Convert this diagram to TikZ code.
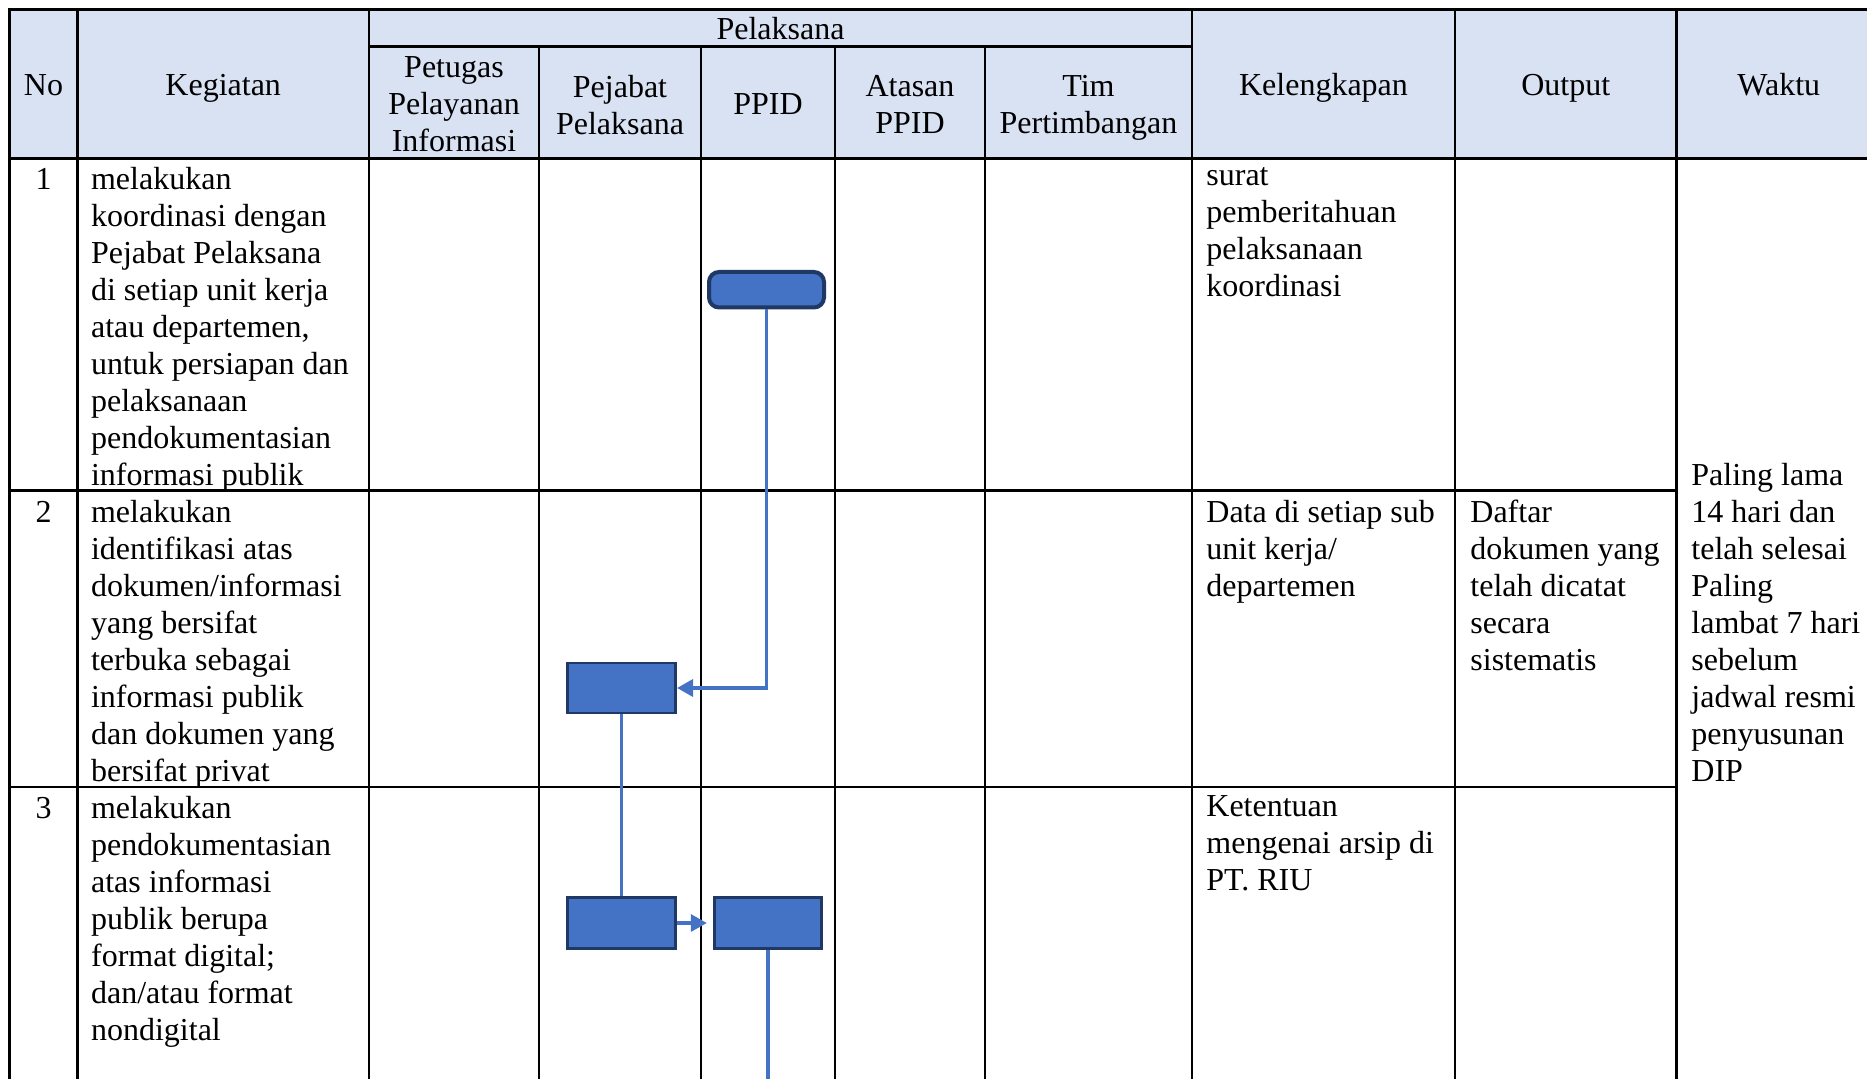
\documentclass[tikz,border=0pt]{standalone}
\usepackage{fontspec}
\setmainfont{Liberation Serif}
\usetikzlibrary{arrows.meta}
\definecolor{hdrfill}{HTML}{D9E2F3}
\definecolor{boxfill}{HTML}{4472C4}
\definecolor{boxline}{HTML}{1F3864}
\definecolor{connblue}{HTML}{4472C4}
\begin{document}
\begin{tikzpicture}[x=0.5pt,y=-0.5pt,
  tblline/.style={line width=1.4pt, black, line cap=rect},
  txt/.style={inner sep=0pt, anchor=north west, align=left, font=\fontsize{16}{18.5}\selectfont, execute at begin node=\strut},
  hd/.style={inner sep=0pt, anchor=north, align=center, font=\fontsize{16}{18.5}\selectfont, execute at begin node=\strut},
  flowbox/.style={draw=boxline, fill=boxfill, line width=1.35pt, inner sep=0pt},
  connline/.style={draw=connblue, line width=1.6pt},
  arrowend/.style={-{Triangle[length=8pt,width=8.5pt]}}
]
\useasboundingbox (0,0) rectangle (1867,1079);
\clip (0,0) rectangle (1867,1079);
% header background
\fill[hdrfill] (9.5,9.5) rectangle (1900,158.4);
% table lines
\draw[tblline] (9.5,9.5) -- (1900,9.5);
\draw[tblline] (369,46.7) -- (1192,46.7);
\draw[tblline] (9.5,158.4) -- (1900,158.4);
\draw[tblline] (9.5,490.6) -- (1676.5,490.6);
\draw[tblline] (9.5,787) -- (1676.5,787);
\foreach \x in {9.5,77.4,369,1192,1455,1676.5} \draw[tblline] (\x,9.5) -- (\x,1100);
\foreach \x in {539,701,835,985} \draw[tblline] (\x,46.7) -- (\x,1100);
% header texts
\node[hd] (hNo) at (43.5,69.1) {No};
\node[hd] (hKeg) at (223.2,69.1) {Kegiatan};
\node[hd] (hPel) at (780.5,13.1) {Pelaksana};
\node[hd] (hPet) at (454,56.1) {Petugas\\Pelayanan\\Informasi};
\node[hd] (hPej) at (620,75.1) {Pejabat\\Pelaksana};
\node[hd] (hPPID) at (768,88.1) {PPID};
\node[hd] (hAts) at (910,75.1) {Atasan\\PPID};
\node[hd] (hTim) at (1088.5,75.1) {Tim\\Pertimbangan};
\node[hd] (hKel) at (1323.5,69.1) {Kelengkapan};
\node[hd] (hOut) at (1565.75,69.1) {Output};
\node[hd] (hWak) at (1778.75,69.1) {Waktu};
% row numbers
\node[hd] (n1) at (43.5,163.3) {1};
\node[hd] (n2) at (43.5,496.1) {2};
\node[hd] (n3) at (43.5,792) {3};
% kegiatan
\node[txt] (k1) at (90.7,166.8) {melakukan\\koordinasi dengan\\Pejabat Pelaksana\\di setiap unit kerja\\atau departemen,\\untuk persiapan dan\\pelaksanaan\\pendokumentasian\\informasi publik};
\node[txt] (k2) at (90.7,499.6) {melakukan\\identifikasi atas\\dokumen/informasi\\yang bersifat\\terbuka sebagai\\informasi publik\\dan dokumen yang\\bersifat privat};
\node[txt] (k3) at (90.7,795.5) {melakukan\\pendokumentasian\\atas informasi\\publik berupa\\format digital;\\dan/atau format\\nondigital};
% kelengkapan
\node[txt] (l1) at (1206,166.8) {surat\\pemberitahuan\\pelaksanaan\\koordinasi};
\node[txt] (l2) at (1206,499.6) {Data di setiap sub\\unit kerja/\\departemen};
\node[txt] (l3) at (1206,795.5) {Ketentuan\\mengenai arsip di\\PT. RIU};
% output
\node[txt] (o2) at (1470,499.6) {Daftar\\dokumen yang\\telah dicatat\\secara\\sistematis};
% waktu
\node[txt] (w1) at (1691,463.1) {Paling lama\\14 hari dan\\telah selesai\\Paling\\lambat 7 hari\\sebelum\\jadwal resmi\\penyusunan\\DIP};
% flow shapes
\node[flowbox, rounded corners=5pt, line width=2pt, minimum width=57.5pt, minimum height=17.75pt] (b1) at (766.5,289.75) {};
\node[flowbox, minimum width=54.15pt, minimum height=25pt] (b2) at (621.5,688) {};
\node[flowbox, minimum width=54pt, minimum height=25.8pt] (b3) at (621.5,923) {};
\node[flowbox, minimum width=53.8pt, minimum height=25.6pt] (b4) at (768,923) {};
\coordinate (bend) at (768,1100);
% connectors
\draw[connline, arrowend] (b1.south) |- (b2.east);
\draw[connline] (b2.south) -- (b3.north);
\draw[connline, arrowend, shorten >=3pt] (b3.east) -- (b4.west);
\draw[connline] (b4.south) -- (bend);
\end{tikzpicture}
\end{document}
